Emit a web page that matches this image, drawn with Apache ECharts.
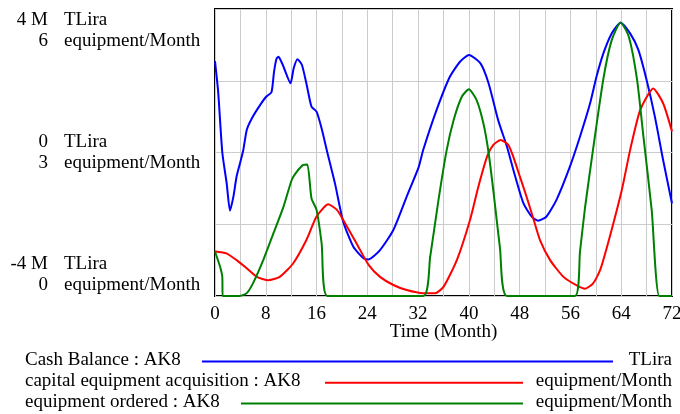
<!DOCTYPE html>
<html>
<head>
<meta charset="utf-8">
<script src="https://cdn.jsdelivr.net/npm/echarts@6/dist/echarts.min.js"></script>
<style>
html,body{margin:0;padding:0;background:#fff;}
#chart{width:680px;height:414px;}
</style>
</head>
<body>
<div id="chart"></div>
<script>
// Time (Month) / value pairs
var cashBalance = [[0,2.55],[0.5,1.69],[1.15,0],[1.84,-0.86],[2.36,-1.62],[2.9,-1.23],[3.4,-0.67],[3.94,-0.30],[4.46,0.07],[5.0,0.63],[5.8,0.95],[7.1,1.32],[8.1,1.56],[8.9,1.68],[9.3,2.25],[9.7,2.62],[10.0,2.67],[10.4,2.55],[10.8,2.39],[11.9,1.93],[12.4,2.35],[13.0,2.6],[13.7,2.44],[14.45,1.88],[15.2,1.28],[16.0,1.14],[16.8,0.67],[17.7,0],[18.9,-0.86],[20.2,-1.93],[21.8,-2.63],[23.4,-2.95],[24.2,-2.98],[26.0,-2.72],[28.1,-2.16],[30.2,-1.23],[32.1,-0.40],[32.8,0.07],[34.9,1.18],[37.0,2.11],[38.6,2.53],[40.0,2.72],[41.8,2.49],[43.1,1.93],[44.6,0.91],[46.0,0.16],[47.3,-0.67],[48.6,-1.42],[49.9,-1.79],[50.9,-1.90],[52.2,-1.79],[53.8,-1.32],[55.9,-0.40],[57.5,0.44],[59.1,1.37],[60.1,2.11],[61.2,2.77],[62.5,3.32],[63.9,3.62],[65.4,3.32],[66.7,2.86],[68.0,2.02],[69.3,1.0],[70.6,-0.21],[72,-1.42]];
var capitalAcquisition = [[0,0.93],[1.8,0.89],[3.4,0.75],[5.0,0.58],[6.6,0.40],[8.4,0.33],[10.2,0.40],[12.3,0.68],[14.4,1.17],[16.0,1.66],[17.85,1.92],[19.2,1.80],[20.2,1.59],[22.3,1.10],[24.2,0.65],[26.0,0.40],[28.1,0.23],[30.2,0.125],[32.8,0.06],[34.7,0.06],[36.0,0.19],[38.1,0.75],[40.2,1.6],[41.5,2.29],[42.9,2.93],[43.85,3.16],[45.0,3.26],[46.2,3.16],[47.0,2.91],[48.05,2.49],[49.1,2.07],[50.15,1.62],[51.2,1.17],[52.8,0.75],[54.9,0.40],[57.0,0.22],[58.3,0.15],[59.6,0.27],[60.7,0.55],[62.2,1.24],[64.1,2.22],[65.4,3.05],[67.0,3.89],[69.05,4.34],[70.6,4.03],[72,3.44]];
var equipmentOrdered = [[0,0.93],[0.8,0.61],[1.15,0.4],[1.2,0],[3.9,0],[5.0,0.06],[6.0,0.27],[7.6,0.75],[9.2,1.31],[10.8,1.87],[12.1,2.43],[12.9,2.6],[13.9,2.74],[14.55,2.75],[15.2,2.04],[16.0,1.80],[16.8,1.10],[17.7,0],[32.8,0],[33.9,0.82],[35.2,2.0],[36.5,3.05],[37.6,3.68],[38.9,4.17],[40.0,4.32],[41.2,4.10],[42.3,3.6],[43.1,3.0],[43.9,2.15],[44.9,1.0],[46.0,0],[56.7,0],[57.5,0.92],[58.3,1.85],[59.6,3.1],[61.2,4.55],[62.5,5.35],[63.9,5.72],[65.2,5.42],[66.5,4.52],[67.5,3.33],[68.8,1.80],[70.0,0],[72,0]];

// Tick labels (bottom, middle, top)
var cashTickValues = [-4, 0, 4];
var cashTickLabels = ['-4 M', '0', '4 M'];
var equipTickValues = [0, 3, 6];
var equipTickLabels = ['0', '3', '6'];
var cashUnit = 'TLira';
var equipUnit = 'equipment/Month';
var xAxisName = 'Time (Month)';
var seriesNames = ['Cash Balance : AK8', 'capital equipment acquisition : AK8', 'equipment ordered : AK8'];
var seriesUnits = ['TLira', 'equipment/Month', 'equipment/Month'];
var seriesColors = ['#0000ff', '#ff0000', '#008000'];

var FONT = 'Liberation Serif';
var chart = echarts.init(document.getElementById('chart'), null, {renderer: 'canvas'});

function numberLabel(v) {
  var i = cashTickValues.indexOf(v);
  if (i < 0) return '';
  return cashTickLabels[i] + '\n' + equipTickLabels[i];
}
function unitLabel(v) {
  var i = equipTickValues.indexOf(v);
  if (i < 0) return '';
  return cashUnit + '\n' + equipUnit;
}

var legendRows = [
  {y: 361.5, x1: 202, x2: 613},
  {y: 382.8, x1: 325, x2: 523},
  {y: 403.5, x1: 241, x2: 523}
];
var graphics = [];
seriesNames.forEach(function (name, i) {
  var r = legendRows[i];
  graphics.push({type: 'text', left: 25, top: r.y - 11, style: {text: name, font: '19px "' + FONT + '"', fill: '#000'}});
  graphics.push({type: 'line', shape: {x1: r.x1, y1: r.y, x2: r.x2, y2: r.y}, style: {stroke: seriesColors[i], lineWidth: 2}});
  graphics.push({type: 'text', right: 8, top: r.y - 11, style: {text: seriesUnits[i], font: '19px "' + FONT + '"', fill: '#000'}});
});

var labelBase = {color: '#000', fontFamily: FONT, fontSize: 19, lineHeight: 21.6,
  verticalAlignMaxLabel: 'top', verticalAlignMinLabel: 'bottom'};

var option = {
  animation: false,
  backgroundColor: '#fff',
  textStyle: {fontFamily: FONT},
  grid: {left: 215, right: 8, top: 9, bottom: 118, containLabel: false, outerBoundsMode: 'none',
    show: true, borderColor: '#000', borderWidth: 2, backgroundColor: 'transparent'},
  xAxis: {
    type: 'value', min: 0, max: 72, interval: 4,
    name: xAxisName, nameLocation: 'middle', nameGap: 27, nameMoveOverlap: false,
    nameTextStyle: {fontFamily: FONT, fontSize: 19, color: '#000'},
    axisLine: {show: false}, axisTick: {show: false},
    axisLabel: {fontFamily: FONT, fontSize: 19, color: '#000', margin: 9,
      formatter: function (v) { return v % 8 === 0 ? String(v) : ''; }},
    splitLine: {show: true, lineStyle: {color: '#cccccc', width: 1}}
  },
  yAxis: [{
    type: 'value', min: -4, max: 4, interval: 2, position: 'left',
    axisLine: {show: false}, axisTick: {show: false},
    splitLine: {show: true, lineStyle: {color: '#cccccc', width: 1}},
    axisLabel: Object.assign({margin: 167, align: 'right', formatter: numberLabel}, labelBase)
  }, {
    type: 'value', min: 0, max: 6, interval: 1.5, position: 'left', offset: 0,
    axisLine: {show: false}, axisTick: {show: false}, splitLine: {show: false},
    axisLabel: Object.assign({margin: 151, align: 'left', formatter: unitLabel}, labelBase)
  }],
  series: [
    {name: seriesNames[0], type: 'line', yAxisIndex: 0, data: cashBalance, showSymbol: false, smooth: 0.2,
      lineStyle: {color: seriesColors[0], width: 2}, itemStyle: {color: seriesColors[0]}, z: 3},
    {name: seriesNames[1], type: 'line', yAxisIndex: 1, data: capitalAcquisition, showSymbol: false, smooth: 0.2,
      lineStyle: {color: seriesColors[1], width: 2}, itemStyle: {color: seriesColors[1]}, z: 3},
    {name: seriesNames[2], type: 'line', yAxisIndex: 1, data: equipmentOrdered, showSymbol: false, smooth: 0.2,
      lineStyle: {color: seriesColors[2], width: 2}, itemStyle: {color: seriesColors[2]}, z: 3}
  ],
  graphic: graphics
};
chart.setOption(option);
</script>
</body>
</html>
